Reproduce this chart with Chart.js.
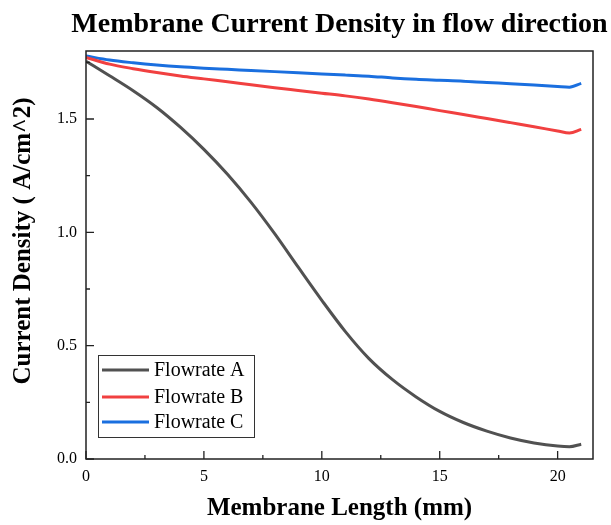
<!DOCTYPE html>
<html>
<head>
    <title>Membrane Current Density</title>
    <script src="https://cdn.jsdelivr.net/npm/chart.js@4/dist/chart.umd.min.js"></script>
    <style type="text/css">
      body { margin: 0; background: #fff; }
      #chart-container {
        width: 611px;
        height: 525px;
        position: relative;
      }
    </style>
</head>
<body>
  <div id="chart-container">
    <canvas id="mycanvas"></canvas>
  </div>
<script>
var lengthMm = [0, 1, 2, 3, 4, 5, 6, 7, 8, 9, 10, 11, 12, 13, 14, 15, 16, 17, 18, 19, 20, 20.5, 21];
var flowA = [1.755, 1.691, 1.625, 1.551, 1.464, 1.366, 1.256, 1.132, 0.994, 0.846, 0.70, 0.562, 0.443, 0.350, 0.274, 0.210, 0.161, 0.123, 0.093, 0.071, 0.057, 0.054, 0.065];
var flowB = [1.772, 1.742, 1.722, 1.705, 1.69, 1.677, 1.664, 1.651, 1.638, 1.626, 1.614, 1.602, 1.588, 1.572, 1.555, 1.537, 1.52, 1.502, 1.484, 1.466, 1.447, 1.438, 1.454];
var flowC = [1.778, 1.76, 1.748, 1.738, 1.73, 1.724, 1.719, 1.714, 1.709, 1.704, 1.699, 1.694, 1.689, 1.681, 1.675, 1.671, 1.667, 1.661, 1.656, 1.65, 1.643, 1.64, 1.657];
var seriesNames = ['Flowrate A', 'Flowrate B', 'Flowrate C'];
var seriesColors = ['#515151', '#F14040', '#1A6FDF'];
var xTicks = [0, 5, 10, 15, 20];
var yTicks = [0, 0.5, 1.0, 1.5];
var chartTitle = 'Membrane Current Density in flow direction';
var yTitle = 'Current Density ( A/cm^2)';

var serif = '"Liberation Serif", "Times New Roman", serif';

function pts(ys) {
  return lengthMm.map(function(x, i) { return {x: x, y: ys[i]}; });
}

// frame, inward ticks, titles and legend box
var decor = {
  id: 'decor',
  afterDraw: function(chart) {
    var ctx = chart.ctx, a = chart.chartArea;
    var xs = chart.scales.x, ys = chart.scales.y;
    ctx.save();
    ctx.strokeStyle = '#222';
    ctx.lineWidth = 1.5;
    ctx.strokeRect(a.left, a.top, a.right - a.left, a.bottom - a.top);

    ctx.lineWidth = 1.3;
    ctx.beginPath();
    for (var v = 0; v <= 21.5; v += 2.5) {
      var px = xs.getPixelForValue(v);
      var len = (v % 5 === 0) ? 8 : 4;
      ctx.moveTo(px, a.bottom);
      ctx.lineTo(px, a.bottom - len);
    }
    for (var w = 0; w <= 1.8; w += 0.25) {
      var py = ys.getPixelForValue(w);
      var l2 = (Math.abs(w * 2 - Math.round(w * 2)) < 1e-6) ? 8 : 4;
      ctx.moveTo(a.left, py);
      ctx.lineTo(a.left + l2, py);
    }
    ctx.stroke();

    // title, centred on the plot area
    ctx.fillStyle = '#000';
    ctx.font = 'bold 28px ' + serif;
    ctx.textAlign = 'center';
    ctx.textBaseline = 'alphabetic';
    ctx.fillText(chartTitle, (a.left + a.right) / 2, 32);

    // y axis title
    ctx.save();
    ctx.translate(24, 241);
    ctx.rotate(-Math.PI / 2);
    ctx.font = 'bold 25px ' + serif;
    ctx.textBaseline = 'middle';
    ctx.fillText(yTitle, 0, 0);
    ctx.restore();

    // legend inside plot
    var bx = 98, by = 355, bw = 156, bh = 82;
    ctx.fillStyle = '#fff';
    ctx.fillRect(bx, by, bw, bh);
    ctx.strokeStyle = '#333';
    ctx.lineWidth = 1;
    ctx.strokeRect(bx + 0.5, by + 0.5, bw, bh);
    ctx.font = '20px ' + serif;
    ctx.textAlign = 'left';
    ctx.textBaseline = 'middle';
    var rows = [370, 397, 422];
    chart.data.datasets.forEach(function(ds, i) {
      ctx.strokeStyle = ds.borderColor;
      ctx.lineWidth = 3;
      ctx.beginPath();
      ctx.moveTo(102, rows[i]);
      ctx.lineTo(149, rows[i]);
      ctx.stroke();
      ctx.fillStyle = '#000';
      ctx.fillText(ds.label, 154, rows[i] + 1);
    });
    ctx.restore();
  }
};

var chartdata = {
  datasets: [flowA, flowB, flowC].map(function(ys, i) {
    return {
      label: seriesNames[i],
      data: pts(ys),
      borderColor: seriesColors[i],
      backgroundColor: seriesColors[i],
      borderWidth: 3,
      pointRadius: 0,
      cubicInterpolationMode: 'monotone',
      fill: false
    };
  })
};

var ctx = document.getElementById('mycanvas');
var lineGraph = new Chart(ctx, {
  type: 'line',
  data: chartdata,
  options: {
    responsive: true,
    maintainAspectRatio: false,
    animation: false,
    layout: { padding: { top: 51, right: 18, left: 0, bottom: 0 } },
    plugins: {
      legend: { display: false },
      title: { display: false },
      tooltip: { enabled: false }
    },
    scales: {
      x: {
        type: 'linear',
        min: 0,
        max: 21.5,
        grid: { display: false, drawTicks: false },
        border: { display: false },
        afterBuildTicks: function(s) { s.ticks = xTicks.map(function(v) { return {value: v}; }); },
        afterFit: function(s) { s.height = 66; },
        ticks: {
          padding: 8,
          color: '#000',
          maxRotation: 0,
          font: { family: serif, size: 16 },
          callback: function(v) { return String(v); }
        },
        title: {
          display: true,
          text: 'Membrane Length (mm)',
          color: '#000',
          font: { family: serif, size: 25, weight: 'bold' },
          padding: { top: 0, bottom: 1 }
        }
      },
      y: {
        min: 0,
        max: 1.8,
        grid: { display: false, drawTicks: false },
        border: { display: false },
        afterBuildTicks: function(s) { s.ticks = yTicks.map(function(v) { return {value: v}; }); },
        afterFit: function(s) { s.width = 86; },
        ticks: {
          padding: 9,
          color: '#000',
          font: { family: serif, size: 16 },
          callback: function(v) { return v.toFixed(1); }
        }
      }
    }
  },
  plugins: [decor]
});
</script>
</body>
</html>
